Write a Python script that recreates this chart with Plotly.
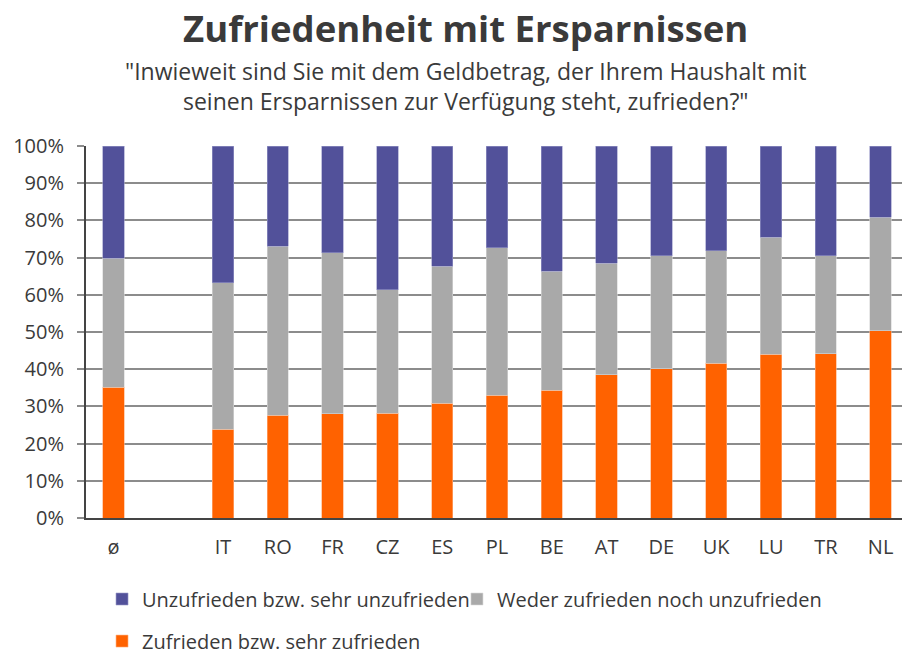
import plotly.graph_objects as go

categories = ["ø", " ", "IT", "RO", "FR", "CZ", "ES", "PL", "BE", "AT", "DE", "UK", "LU", "TR", "NL"]
zufrieden = [35.1, None, 23.8, 27.6, 28.0, 28.1, 30.9, 33.0, 34.3, 38.5, 40.1, 41.6, 44.0, 44.2, 50.4]
weder = [34.7, None, 39.5, 45.5, 43.3, 33.2, 36.8, 39.6, 32.0, 30.0, 30.4, 30.3, 31.5, 26.3, 30.4]
unzufrieden = [30.2, None, 36.7, 26.9, 28.7, 38.7, 32.3, 27.4, 33.7, 31.5, 29.5, 28.1, 24.5, 29.5, 19.2]
yticks = [0, 10, 20, 30, 40, 50, 60, 70, 80, 90, 100]
ytick_labels = ["0%", "10%", "20%", "30%", "40%", "50%", "60%", "70%", "80%", "90%", "100%"]

FONT = "Open Sans"
TXT = "#3A3A3A"

fig = go.Figure()
fig.add_bar(x=categories, y=zufrieden, name="Zufrieden bzw. sehr zufrieden", showlegend=True,
            marker=dict(color="#FF6200", line=dict(color="#FFB080", width=0.6)), legend="legend2")
fig.add_bar(x=categories, y=weder, name="Weder zufrieden noch unzufrieden", showlegend=True,
            marker=dict(color="#A9A9A9", line=dict(color="#D8D8D8", width=0.6)), legend="legend3")
fig.add_bar(x=categories, y=unzufrieden, name="Unzufrieden bzw. sehr unzufrieden", showlegend=True,
            marker=dict(color="#52519A", line=dict(color="#9A99C8", width=0.6)), legend="legend")

leg_common = dict(orientation="h", xanchor="left", yanchor="middle", yref="container",
                  font=dict(size=20, color=TXT), itemwidth=30, bgcolor="rgba(0,0,0,0)", visible=True)

fig.update_layout(
    width=910, height=653,
    showlegend=True,
    margin=dict(l=78, r=10, t=138, b=143, autoexpand=False),
    barmode="stack", bargap=0.61,
    plot_bgcolor="white", paper_bgcolor="white",
    font=dict(family=FONT, color=TXT, size=16),
    legend=dict(x=0.0195, y=0.0949, **leg_common),
    legend3=dict(x=0.4513, y=0.0949, **leg_common),
    legend2=dict(x=0.0195, y=0.0305, **leg_common),
)
fig.add_annotation(text="<b>Zufriedenheit mit Ersparnissen</b>", xref="paper", yref="paper",
                   x=0.4617, y=1.3164, xanchor="center", yanchor="middle", showarrow=False,
                   font=dict(size=36.5, color=TXT, family=FONT))
fig.add_annotation(text='"Inwieweit sind Sie mit dem Geldbetrag, der Ihrem Haushalt mit<br>seinen Ersparnissen zur Verfügung steht, zufrieden?"',
                   xref="paper", yref="paper", x=0.4617, y=1.1625, xanchor="center", yanchor="middle",
                   showarrow=False, align="center", font=dict(size=23, color=TXT, family=FONT))

fig.update_xaxes(type="category", showgrid=False, showline=True, linecolor="#444444", linewidth=2,
                 ticks="", tickfont=dict(size=20, color=TXT), ticklabelstandoff=10, fixedrange=True)
fig.update_yaxes(range=[0, 100], tickvals=yticks, ticktext=ytick_labels, showgrid=True,
                 gridcolor="#8C8C8C", gridwidth=2, showline=True, linecolor="#444444", linewidth=2,
                 ticks="outside", ticklen=7, tickcolor="#8C8C8C", tickwidth=2,
                 tickfont=dict(size=20, color=TXT), ticklabelstandoff=9, zeroline=False)

fig.write_html("out.html")
